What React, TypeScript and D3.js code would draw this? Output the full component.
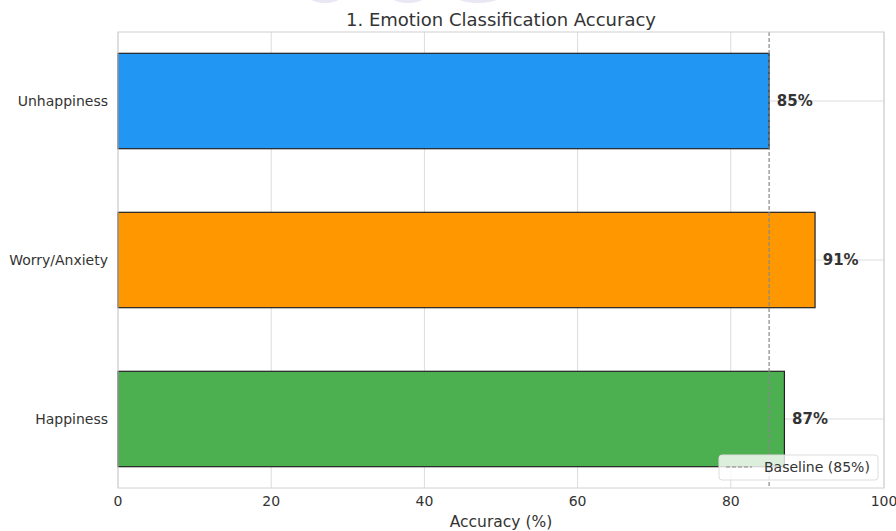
import React from "react";
import * as d3 from "d3";

const categories = ["Happiness", "Worry/Anxiety", "Unhappiness"];
const values = [87, 91, 85];
const colors = ["#4CAF50", "#FF9800", "#2196F3"];
const xTicks = [0, 20, 40, 60, 80, 100];
const baseline = 85;
const title = "1. Emotion Classification Accuracy";
const xLabel = "Accuracy (%)";
const legendLabel = "Baseline (85%)";

const W = 896;
const H = 531;
const M = { left: 118, right: 884, top: 32, bottom: 488 };
const FONT = "DejaVu Sans, sans-serif";

export default function App() {
  const x = d3.scaleLinear().domain([0, 100]).range([M.left, M.right]);
  const y = d3.scaleLinear().domain([-0.434, 2.434]).range([M.bottom, M.top]);
  const barH = Math.abs(y(0.3) - y(-0.3));

  return (
    <svg width={W} height={H} style={{ position: "absolute", left: 0, top: 0 }} fontFamily={FONT}>
      <rect width={W} height={H} fill="#fff" />
      {/* faint watermark remnants */}
      <g fill="#e9e7f4">
        <ellipse cx={325} cy={-14} rx={24} ry={17} />
        <ellipse cx={408} cy={-14} rx={25} ry={17} />
        <ellipse cx={478} cy={-14} rx={33} ry={17} />
      </g>
      {/* grid */}
      <g stroke="#dcdcdc" strokeWidth={1}>
        {xTicks.map((t) => (
          <line key={t} x1={x(t)} x2={x(t)} y1={M.top} y2={M.bottom} />
        ))}
        {categories.map((c, i) => (
          <line key={c} x1={M.left} x2={M.right} y1={y(i)} y2={y(i)} />
        ))}
      </g>
      {/* bars */}
      {categories.map((c, i) => (
        <rect
          key={c}
          x={x(0)}
          y={y(i) - barH / 2}
          width={x(values[i]) - x(0)}
          height={barH}
          fill={colors[i]}
          stroke="#222"
          strokeWidth={1.2}
        />
      ))}
      {/* baseline */}
      <line x1={x(baseline)} x2={x(baseline)} y1={M.top} y2={M.bottom} stroke="#888" strokeWidth={1.2} strokeDasharray="4,2" />
      {/* value labels */}
      {categories.map((c, i) => (
        <text key={c} x={x(values[i] + 1)} y={y(i)} dy="0.35em" fontSize={15} fontWeight="bold" fill="#333">
          {values[i]}%
        </text>
      ))}
      {/* spines */}
      <rect x={M.left} y={M.top} width={M.right - M.left} height={M.bottom - M.top} fill="none" stroke="#d0d0d0" strokeWidth={1} />
      {/* x ticks */}
      {xTicks.map((t) => (
        <text key={t} x={x(t)} y={M.bottom + 18} textAnchor="middle" fontSize={14} fill="#333">
          {t}
        </text>
      ))}
      {/* y ticks */}
      {categories.map((c, i) => (
        <text key={c} x={M.left - 10} y={y(i)} dy="0.35em" textAnchor="end" fontSize={14} fill="#333">
          {c}
        </text>
      ))}
      <text x={(M.left + M.right) / 2} y={527} textAnchor="middle" fontSize={15.5} fill="#333">
        {xLabel}
      </text>
      <text x={(M.left + M.right) / 2} y={26} textAnchor="middle" fontSize={18} fill="#333">
        {title}
      </text>
      {/* legend */}
      <g>
        <rect x={719} y={455} width={159} height={25} rx={3} fill="#fff" fillOpacity={0.8} stroke="#ddd" />
        <line x1={726} x2={752} y1={467} y2={467} stroke="#888" strokeWidth={1.2} strokeDasharray="4,2" />
        <text x={764} y={467} dy="0.35em" fontSize={14} fill="#333">
          {legendLabel}
        </text>
      </g>
    </svg>
  );
}
